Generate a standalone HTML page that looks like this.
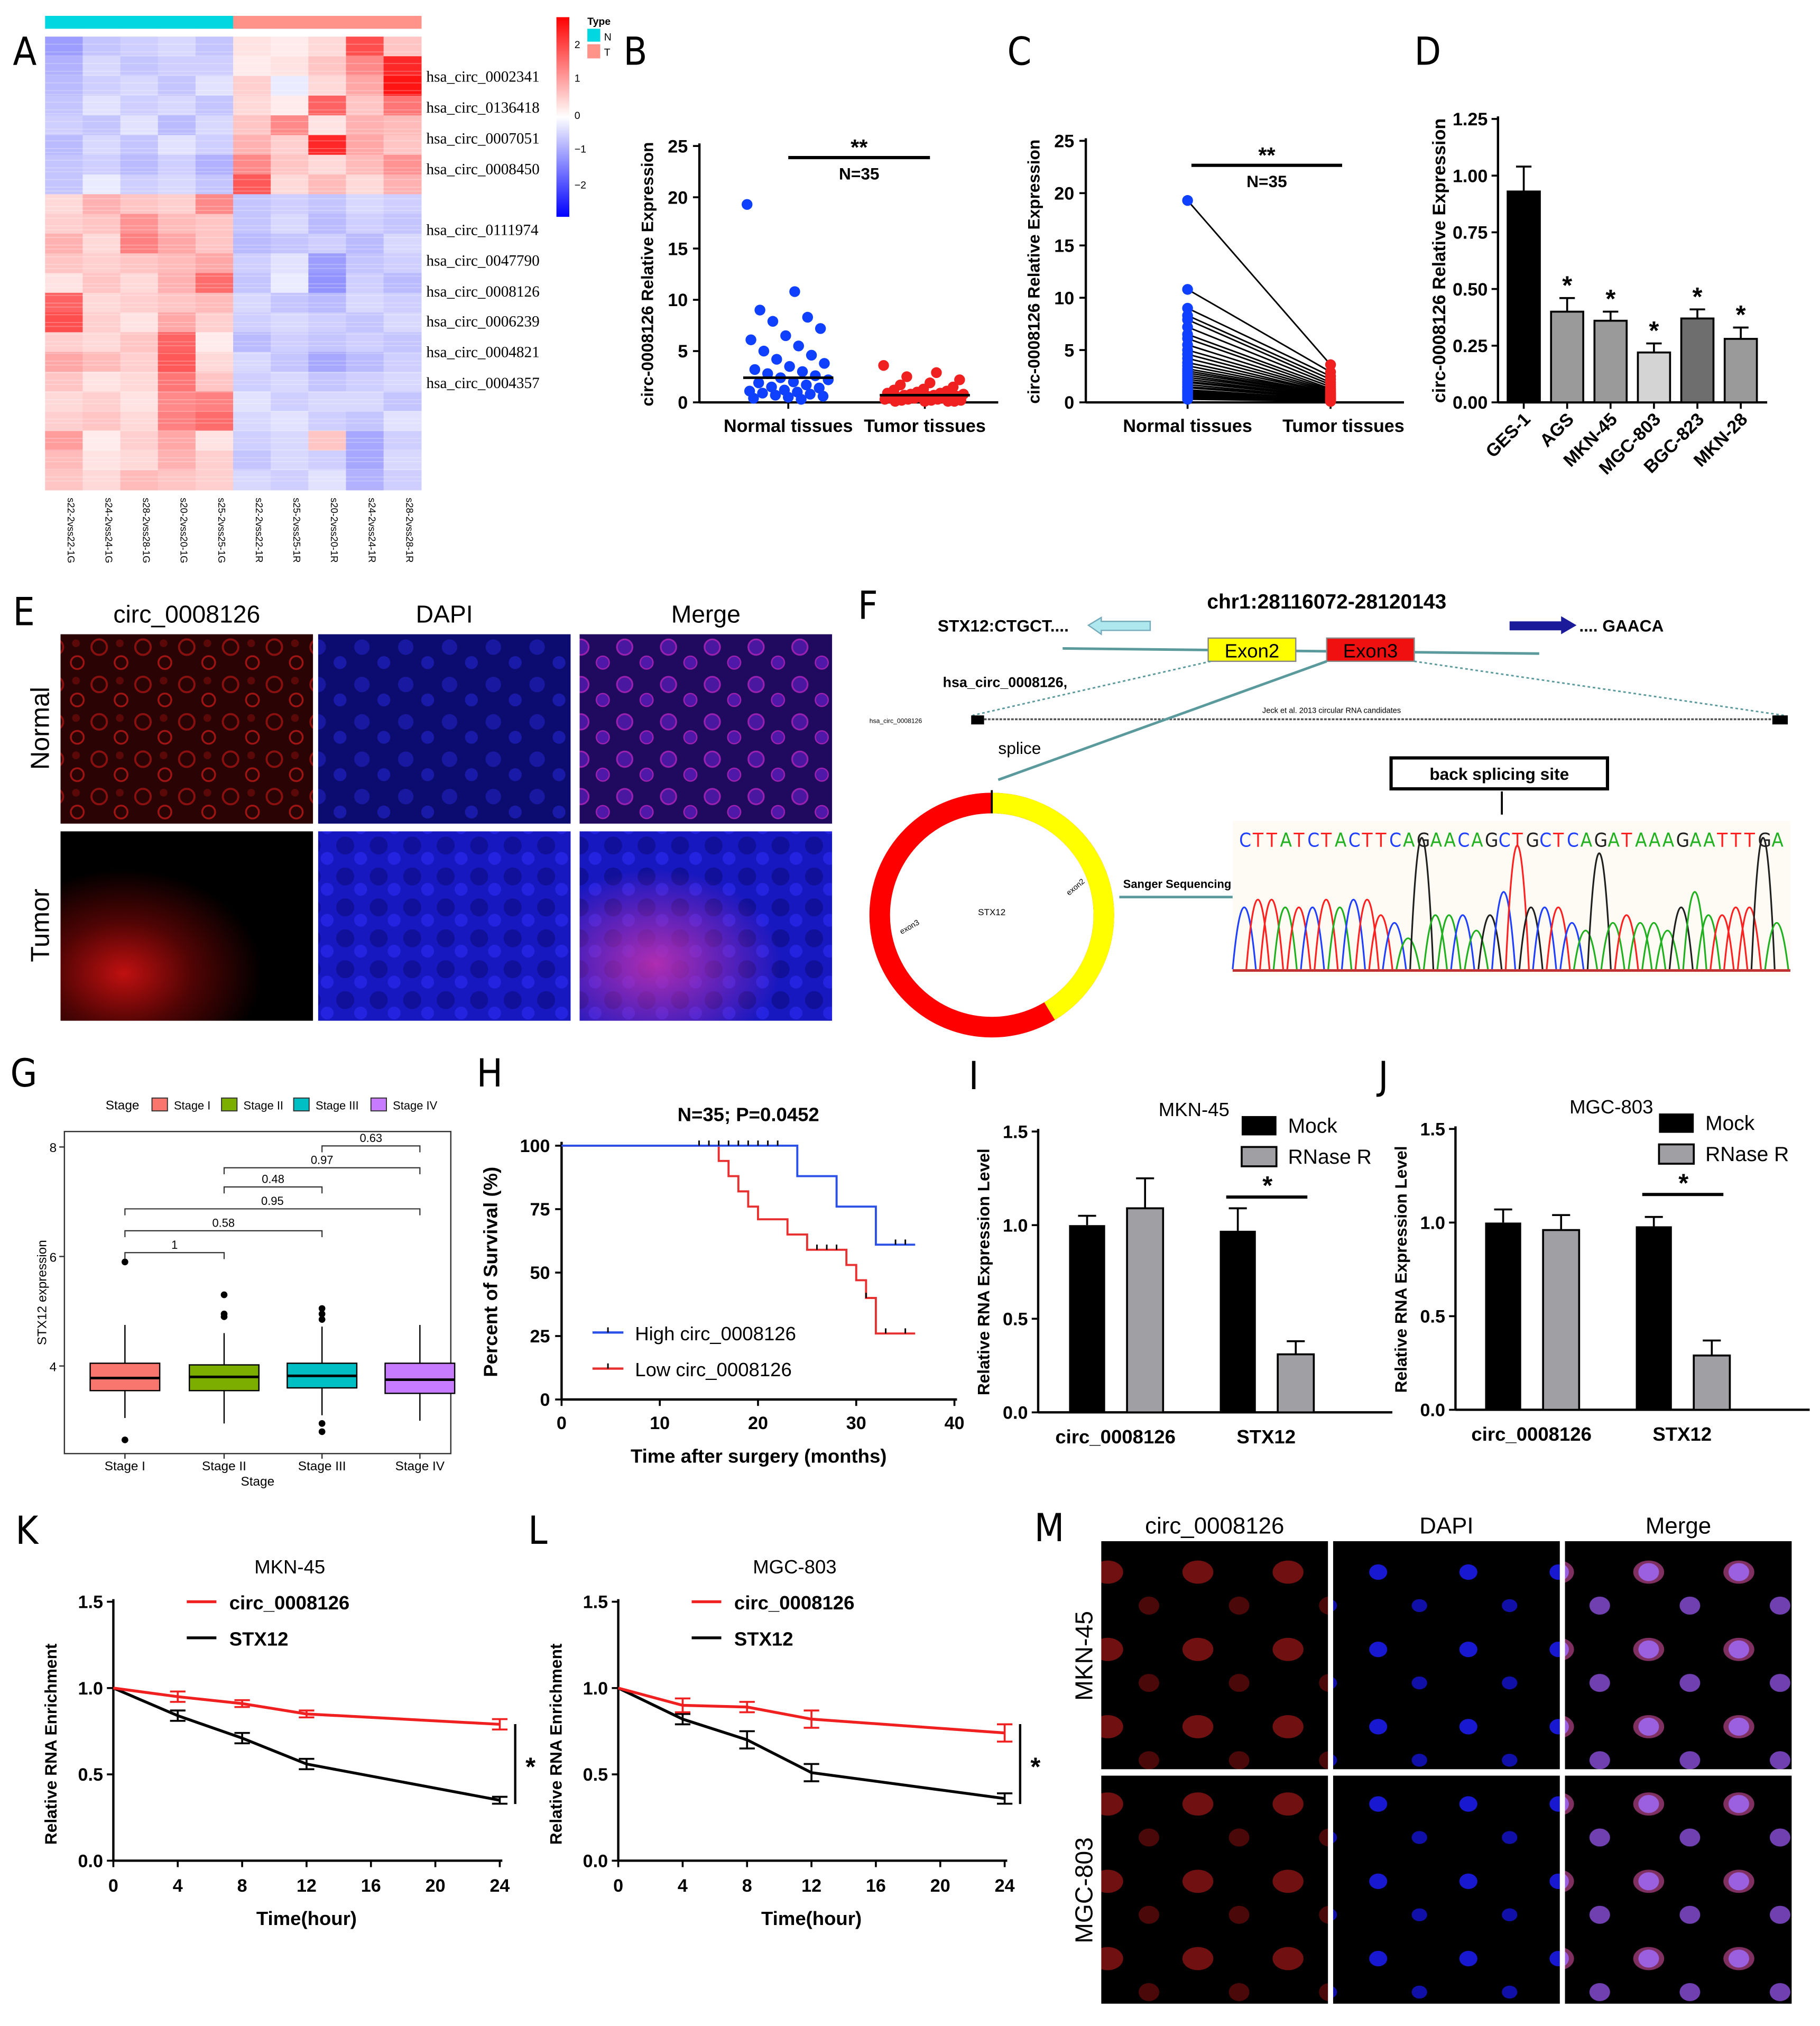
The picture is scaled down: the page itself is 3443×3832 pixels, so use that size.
<!DOCTYPE html>
<html><head><meta charset="utf-8">
<style>
html,body{margin:0;padding:0;background:#fff;}
svg{display:block;font-family:"Liberation Sans",sans-serif;}
.b{font-weight:bold;}
</style></head>
<body>
<svg id="fig" xmlns="http://www.w3.org/2000/svg" width="3443" height="3832" viewBox="0 0 1413 1572">
<defs>
  <linearGradient id="cbar" x1="0" y1="0" x2="0" y2="1">
    <stop offset="0" stop-color="#ff0000"/><stop offset="0.5" stop-color="#ffffff"/><stop offset="1" stop-color="#0000ff"/>
  </linearGradient>
  <pattern id="cellsRed" width="34" height="29" patternUnits="userSpaceOnUse">
    <rect width="34" height="29" fill="#2a0404"/><circle cx="9" cy="9" r="6" fill="none" stroke="#8a1010" stroke-width="1.6"/><circle cx="26" cy="21" r="5" fill="none" stroke="#a01414" stroke-width="1.4"/><circle cx="25" cy="6" r="3" fill="#5a0808"/>
  </pattern>
  <pattern id="cellsBlue" width="34" height="29" patternUnits="userSpaceOnUse">
    <rect width="34" height="29" fill="#0c0c70"/><circle cx="9" cy="9" r="6" fill="#1818a0"/><circle cx="26" cy="21" r="5" fill="#1a1aa8"/>
  </pattern>
  <pattern id="cellsMerge" width="34" height="29" patternUnits="userSpaceOnUse">
    <rect width="34" height="29" fill="#200a60"/><circle cx="9" cy="9" r="6" fill="#4a18a0" stroke="#9a20b0" stroke-width="1.3"/><circle cx="26" cy="21" r="5" fill="#5018a8" stroke="#a020b0" stroke-width="1"/>
  </pattern>
  <radialGradient id="tumRedG" cx="0.25" cy="0.75" r="0.55">
    <stop offset="0" stop-color="#c01010"/><stop offset="0.5" stop-color="#500404"/><stop offset="1" stop-color="#000"/>
  </radialGradient>
  <radialGradient id="tumMergeG" cx="0.3" cy="0.7" r="0.5">
    <stop offset="0" stop-color="#c030b0" stop-opacity="0.9"/><stop offset="1" stop-color="#c030b0" stop-opacity="0"/>
  </radialGradient>
  <pattern id="tumBlue" width="26" height="24" patternUnits="userSpaceOnUse">
    <rect width="26" height="24" fill="#1818c0"/><circle cx="8" cy="8" r="7" fill="#10109a"/><circle cx="20" cy="18" r="5" fill="#2424e0"/>
  </pattern>
  <pattern id="mRed" width="70" height="60" patternUnits="userSpaceOnUse">
    <rect width="70" height="60" fill="#000"/><ellipse cx="20" cy="20" rx="12" ry="9" fill="#701010"/><ellipse cx="52" cy="46" rx="8" ry="7" fill="#4a0808"/>
  </pattern>
  <pattern id="mBlue" width="70" height="60" patternUnits="userSpaceOnUse">
    <rect width="70" height="60" fill="#000"/><ellipse cx="20" cy="20" rx="7" ry="6" fill="#1818d0"/><ellipse cx="52" cy="46" rx="6" ry="5" fill="#1010a8"/>
  </pattern>
  <pattern id="mMerge" width="70" height="60" patternUnits="userSpaceOnUse">
    <rect width="70" height="60" fill="#000"/><ellipse cx="20" cy="20" rx="12" ry="9" fill="#803060"/><ellipse cx="20" cy="20" rx="8" ry="7" fill="#9a60e0"/><ellipse cx="52" cy="46" rx="8" ry="7" fill="#7040b0"/>
  </pattern>
</defs>
<g id="root"></g>
</svg>
<script>
// ---------- DATA ----------
const heatCols = ["s22-2vss22-1G","s24-2vss24-1G","s28-2vss28-1G","s20-2vss20-1G","s25-2vss25-1G","s22-2vss22-1R","s25-2vss25-1R","s20-2vss20-1R","s24-2vss24-1R","s28-2vss28-1R"];
const heatRows = [
 [-1,-.6,-.5,-.4,-.6,.3,.2,.4,1.8,.6],
 [-.8,-.4,-.6,-.5,-.5,.2,.3,.6,1.2,2.2],
 [-.7,-.5,-.4,-.6,-.3,.5,-.2,.4,.9,2.4],
 [-.6,-.3,-.5,-.4,-.6,.4,.2,1.6,.6,1.4],
 [-.5,-.6,-.3,-.7,-.4,.6,1.2,.3,.8,.7],
 [-.7,-.4,-.6,-.3,-.5,.8,.5,2.2,.9,.6],
 [-.6,-.5,-.7,-.5,-.8,1.2,.6,.4,.7,1.1],
 [-.6,-.2,-.5,-.4,-.6,1.7,.4,.7,.4,.8],
 [.4,.8,.6,.5,1.2,-.6,-.5,-.6,-.4,-.5],
 [.5,.6,1.1,.7,.6,-.6,-.4,-.7,-.5,-.6],
 [.8,.4,1.3,.9,.6,-.7,-.6,-.5,-.7,-.4],
 [.6,.5,.6,.7,.9,-.5,-.3,-1,-.6,-.5],
 [.3,.6,.4,.8,1.5,-.6,-.2,-1.1,-.5,-.7],
 [1.6,.4,.5,.6,.7,-.4,-.6,-.7,-.4,-.5],
 [1.8,.5,.3,.9,.5,-.5,-.4,-.5,-.6,-.4],
 [.5,.4,.6,1.6,.2,-.7,-.5,-.6,-.5,-.6],
 [.9,.7,.5,1.7,.4,-.4,-.6,-.9,-.7,-.5],
 [.6,.3,.4,1.4,.6,-.5,-.4,-.6,-.5,-.4],
 [.4,.5,.3,1.2,1.3,-.3,-.5,-.4,-.4,-.6],
 [.5,.6,.4,1.3,1.5,-.4,-.3,-.5,-.6,-.3],
 [1,.2,.5,.9,.3,-.5,-.4,.6,-.9,-.5],
 [.7,.3,.4,.8,.5,-.6,-.4,-.5,-.9,-.4],
 [.6,.4,.7,.6,.5,-.4,-.5,-.3,-.8,-.5]
];
const heatLabels = ["hsa_circ_0002341","hsa_circ_0136418","hsa_circ_0007051","hsa_circ_0008450","hsa_circ_0111974","hsa_circ_0047790","hsa_circ_0008126","hsa_circ_0006239","hsa_circ_0004821","hsa_circ_0004357"];
const normalVals = [19.3,10.8,9,8.3,7.9,7.2,6.5,6.1,5.5,5,4.6,4.2,3.8,3.5,3.2,3,2.8,2.6,2.4,2.2,2,1.9,1.7,1.5,1.4,1.2,1.1,1,.9,.8,.7,.6,.5,.4,.3];
const tumorVals = [3.6,2.9,2.5,2.2,1.9,1.7,1.5,1.3,1.2,1.1,1,.9,.9,.8,.8,.7,.7,.6,.6,.5,.5,.5,.4,.4,.4,.3,.3,.3,.2,.2,.2,.1,.1,.1,.1];
const scatterTicks = [0,5,10,15,20,25];
const cellLines = ["GES-1","AGS","MKN-45","MGC-803","BGC-823","MKN-28"];
const cellVals = [0.93,0.40,0.36,0.22,0.37,0.28];
const cellErr = [0.11,0.06,0.04,0.04,0.04,0.05];
const cellTicks = [0,0.25,0.5,0.75,1.0,1.25];
const stages = ["Stage I","Stage II","Stage III","Stage IV"];
const stageQ1 = [3.55,3.55,3.6,3.5];
const stageMed = [3.78,3.8,3.82,3.75];
const stageQ3 = [4.05,4.02,4.05,4.05];
const stageLo = [3.05,2.95,3.1,3.0];
const stageHi = [4.75,4.6,4.72,4.75];
const stageOut = [[5.9,2.65],[5.3,4.95,4.9],[5.05,4.95,4.85,2.95,2.8],[]];
const boxTicks = [4,6,8];
const pvals = [["1",0,1,6.07],["0.58",0,2,6.47],["0.95",0,3,6.87],["0.48",1,2,7.27],["0.97",1,3,7.62],["0.63",2,3,8.02]];
const highT = [0,24,24,28,28,32,32,36];
const highS = [100,100,88,88,76,76,61,61];
const lowT = [0,16,16,17,17,18,18,19,19,20,20,23,23,25,25,29,29,30,30,31,31,32,32,36];
const lowS = [100,100,94,94,88,88,82,82,76,76,71,71,65,65,59,59,53,53,47,47,40,40,26,26];
const highCens = [[14,100],[15,100],[16,100],[17,100],[18,100],[19,100],[20,100],[21,100],[22,100],[34,61],[35,61]];
const lowCens = [[26,59],[27,59],[28,59],[31,40],[33,26],[35,26]];
const kmXTicks = [0,10,20,30,40];
const kmYTicks = [0,25,50,75,100];
const rnaseGroups = ["circ_0008126","STX12"];
const mknMock = [1.0,0.97]; const mknMockErr=[0.05,0.12];
const mknRnase = [1.09,0.31]; const mknRnaseErr=[0.16,0.07];
const mgcMock = [1.0,0.98]; const mgcMockErr=[0.07,0.05];
const mgcRnase = [0.96,0.29]; const mgcRnaseErr=[0.08,0.08];
const rnaTicks = [0,0.5,1.0,1.5];
const timeH = [0,4,8,12,24];
const timeTicks = [0,4,8,12,16,20,24];
const kCirc = [1,0.95,0.91,0.85,0.79]; const kCircErr=[0,0.03,0.02,0.02,0.03];
const kStx = [1,0.84,0.71,0.56,0.35]; const kStxErr=[0,0.03,0.03,0.03,0.02];
const lCirc = [1,0.9,0.89,0.82,0.74]; const lCircErr=[0,0.04,0.03,0.05,0.05];
const lStx = [1,0.82,0.70,0.51,0.36]; const lStxErr=[0,0.03,0.05,0.05,0.03];

// ---------- HELPERS ----------
const NS="http://www.w3.org/2000/svg";
const root=document.getElementById('root');
function mk(tag,attrs,parent,txt){const e=document.createElementNS(NS,tag);for(const k in attrs)e.setAttribute(k,attrs[k]);if(txt!==undefined)e.textContent=txt;(parent||root).appendChild(e);return e;}
function grp(name){const g=mk('g',{});return g;}
function T(p,x,y,s,o,name){const t=mk('text',Object.assign({x:x,y:y},o||{}),p,s);return t;}
function L(p,x1,y1,x2,y2,st,w,name){const l=mk('line',{x1,y1,x2,y2,stroke:st||'#000','stroke-width':w||1.5},p);return l;}
function R(p,x,y,w,h,f,name,extra){const r=mk('rect',Object.assign({x,y,width:w,height:h,fill:f},extra||{}),p);return r;}
function panelLetter(ch,x,y){const t=T(root,x,y,ch,{'font-size':30,'font-family':'"DejaVu Sans Condensed","Liberation Sans",sans-serif'},'panel-letter-'+ch);return t;}
function heatColor(v){const m=2.6;let t=Math.max(-1,Math.min(1,v/m));if(t>=0){const c=Math.round(255*(1-t));return `rgb(255,${c},${c})`;}const c=Math.round(255*(1+t));return `rgb(${c},${c},255)`;}

// ---------- PANEL A ----------
(function(){
 const g=grp('heatmap-panel');
 panelLetter('A',10,50);
 const x0=35,x1=327,y0=28,y1=380;const cw=(x1-x0)/heatCols.length;const rh=(y1-y0)/heatRows.length;
 for(let c=0;c<heatCols.length;c++){R(g,x0+c*cw,12,cw+0.3,10,c<5?'#00D7E0':'#FF938A','type-annotation-cell');}
 heatRows.forEach((row,i)=>row.forEach((v,c)=>{
   R(g,x0+c*cw,y0+i*rh,cw+0.3,rh+0.3,heatColor(v),'heatmap-cell');
 }));
 for(let k=0;k<70;k++){const yy=y0+k*5+(k%3);L(g,x0,yy,x1,yy,'rgba(255,255,255,0.25)',0.8,'heatmap-stripe');}
 heatCols.forEach((c,i)=>{const cx=x0+(i+0.5)*cw+3;T(g,cx,386,c,{'font-size':7.5,transform:`rotate(90 ${cx} 386)`},'column-label');});
 const ly=[59,83,107,131,178,202,226,249,273,297];
 heatLabels.forEach((s,i)=>T(g,331,ly[i]+4,s,{'font-size':12,'font-family':'"Liberation Serif",serif'},'row-label'));
 R(g,432,13,10,155,'url(#cbar)','color-scale-bar');
 [[2,37],[1,63],[0,92],[-1,118],[-2,146]].forEach(a=>T(g,446,a[1],a[0]===-1?'\u22121':a[0]===-2?'\u22122':String(a[0]),{'font-size':8},'color-scale-tick'));
 T(g,456,19,'Type',{'font-size':8,class:'b'},'legend-title');
 R(g,456,22,10,10,'#00D7E0','legend-swatch-n');T(g,469,31,'N',{'font-size':8},'legend-label-n');
 R(g,456,34,10,11,'#FF938A','legend-swatch-t');T(g,469,43,'T',{'font-size':8},'legend-label-t');
})();

// ---------- PANEL B & C ----------
function scatterPanel(name,ax,y0,ytop,paired,letter,lx){
 const g=grp(name);panelLetter(letter,lx,50);
 const ys=v=>y0-(v/25)*(y0-ytop);
 L(g,ax,ytop-2,ax,y0,'#000',1.8,'y-axis');
 scatterTicks.forEach(t=>{L(g,ax-5,ys(t),ax,ys(t),'#000',1.5,'y-tick');T(g,ax-9,ys(t)+5,String(t),{'font-size':14,'text-anchor':'end',class:'b'},'y-tick-label');});
 const nx=paired?922:612, tx=paired?1033:718;
 L(g,ax,y0,paired?1090:775,y0,'#000',1.8,'x-axis');
 L(g,nx,y0,nx,y0+5,'#000',1.5,'x-tick');L(g,tx,y0,tx,y0+5,'#000',1.5,'x-tick');
 T(g,nx,y0+23,'Normal tissues',{'font-size':14,'text-anchor':'middle',class:'b'},'x-tick-label');
 T(g,tx+(paired?10:0),y0+23,'Tumor tissues',{'font-size':14,'text-anchor':'middle',class:'b'},'x-tick-label');
 const yt=(y0+ytop)/2, xt=ax-36;
 T(g,xt,yt,'circ-0008126 Relative Expression',{'font-size':13,'text-anchor':'middle',class:'b',transform:`rotate(-90 ${xt} ${yt})`},'y-axis-title');
 if(paired){
  normalVals.forEach((v,i)=>{L(g,nx,ys(v),tx,ys(tumorVals[i]),'#000',1.2,'pair-line');});
 }
 normalVals.forEach((v,i)=>{const jx=paired?0:((i*37)%64-32);const c=mk('circle',{cx:nx+jx,cy:ys(v),r:4.2,fill:'#1040ff'},g);});
 tumorVals.forEach((v,i)=>{const jx=paired?0:((i*41)%64-32);const c=mk('circle',{cx:tx+jx,cy:ys(v),r:4.2,fill:'#f02020'},g);});
 if(!paired){L(g,nx-35,ys(2.4),nx+35,ys(2.4),'#000',2,'median-line');L(g,tx-35,ys(0.7),tx+35,ys(0.7),'#000',2,'median-line');}
 const sb=paired?[925,1042,128]:[612,722,122];
 L(g,sb[0],sb[2],sb[1],sb[2],'#000',2.5,'significance-bar');
 T(g,(sb[0]+sb[1])/2,sb[2]-2,'**',{'font-size':17,'text-anchor':'middle',class:'b'},'significance-stars');
 T(g,(sb[0]+sb[1])/2,sb[2]+17,'N=35',{'font-size':13,'text-anchor':'middle',class:'b'},'sample-size');
}
scatterPanel('scatter-panel-b',543,312,113,false,'B',484);
scatterPanel('paired-panel-c',843,312,109,true,'C',782);

// ---------- PANEL D ----------
(function(){
 const g=grp('cell-line-bar-panel');panelLetter('D',1098,50);
 const ax=1163,y0=312,yt=92;const ys=v=>y0-v/1.25*(y0-yt);
 L(g,ax,yt-2,ax,y0,'#000',1.8,'y-axis');L(g,ax,y0,1372,y0,'#000',1.8,'x-axis');
 cellTicks.forEach(t=>{L(g,ax-5,ys(t),ax,ys(t),'#000',1.5,'y-tick');T(g,ax-8,ys(t)+5,t.toFixed(2),{'font-size':14,'text-anchor':'end',class:'b'},'y-tick-label');});
 const xt=1122,ym=(y0+yt)/2;T(g,xt,ym,'circ-0008126 Relative Expression',{'font-size':14,'text-anchor':'middle',class:'b',transform:`rotate(-90 ${xt} ${ym})`},'y-axis-title');
 const fills=['#000','#9a9a9a','#9a9a9a','#d4d4d4','#6e6e6e','#9a9a9a'];
 cellLines.forEach((n,i)=>{const cx=1183+i*33.7;const bw=25;
  R(g,cx-bw/2,ys(cellVals[i]),bw,y0-ys(cellVals[i]),fills[i],'bar-'+n.toLowerCase(),{stroke:'#000','stroke-width':1.5});
  L(g,cx,ys(cellVals[i]),cx,ys(cellVals[i]+cellErr[i]),'#000',1.5,'error-bar');L(g,cx-6,ys(cellVals[i]+cellErr[i]),cx+6,ys(cellVals[i]+cellErr[i]),'#000',1.5,'error-cap');
  if(i>0)T(g,cx,ys(cellVals[i]+cellErr[i])-3,'*',{'font-size':20,'text-anchor':'middle',class:'b'},'significance-star');
  L(g,cx,y0,cx,y0+5,'#000',1.5,'x-tick');
  T(g,cx+6,y0+14,n,{'font-size':14,'text-anchor':'end',class:'b',transform:`rotate(-45 ${cx+6} ${y0+14})`},'x-tick-label');
 });
})();

// ---------- PANEL E ----------
(function(){
 const g=grp('fish-panel-e');panelLetter('E',10,485);
 const cols=[[47,'circ_0008126'],[247,'DAPI'],[450,'Merge']];
 cols.forEach((c,i)=>T(g,c[0]+98,483,c[1],{'font-size':19,'text-anchor':'middle'},'column-title'));
 R(g,47,492,196,147,'url(#cellsRed)','fluorescence-image');
 R(g,247,492,196,147,'url(#cellsBlue)','fluorescence-image');
 R(g,450,492,196,147,'url(#cellsMerge)','fluorescence-image');
 R(g,47,645,196,147,'url(#tumRedG)','fluorescence-image');
 R(g,247,645,196,147,'url(#tumBlue)','fluorescence-image');
 R(g,450,645,196,147,'url(#tumBlue)','fluorescence-image');
 R(g,450,645,196,147,'url(#tumMergeG)','fluorescence-overlay');
 T(g,38,565,'Normal',{'font-size':20,'text-anchor':'middle',transform:'rotate(-90 38 565)'},'row-title');
 T(g,38,718,'Tumor',{'font-size':20,'text-anchor':'middle',transform:'rotate(-90 38 718)'},'row-title');
})();

// ---------- PANEL F ----------
(function(){
 const g=grp('schematic-panel-f');panelLetter('F',666,480);
 T(g,1030,472,'chr1:28116072-28120143',{'font-size':16,'text-anchor':'middle',class:'b'},'locus-label');
 T(g,728,490,'STX12:CTGCT....',{'font-size':13,class:'b'},'left-sequence');
 mk('path',{d:'M845 485 L855 479 L855 482 L893 482 L893 489 L855 489 L855 492 Z',fill:'#aee8ee',stroke:'#7ab'},g);
 mk('path',{d:'M1172 482 L1212 482 L1212 478 L1224 485 L1212 492 L1212 489 L1172 489 Z',fill:'#1a1a9a'},g);
 T(g,1226,490,'.... GAACA',{'font-size':13,class:'b'},'right-sequence');
 L(g,825,503,1195,507,'#5a9a9c',2,'gene-line');
 R(g,938,495,68,18,'#ffff00','exon2-box',{stroke:'#888'});T(g,972,510,'Exon2',{'font-size':15,'text-anchor':'middle'},'exon2-label');
 R(g,1030,495,68,18,'#f01010','exon3-box',{stroke:'#888'});T(g,1064,510,'Exon3',{'font-size':15,'text-anchor':'middle'},'exon3-label');
 T(g,732,533,'hsa_circ_0008126,',{'font-size':11,class:'b'},'circ-name');
 L(g,940,513,755,555,'#5a9a9c',1.2,'dotted-guide').setAttribute('stroke-dasharray','2 2');
 L(g,1098,513,1385,555,'#5a9a9c',1.2,'dotted-guide').setAttribute('stroke-dasharray','2 2');
 T(g,675,561,'hsa_circ_0008126',{'font-size':5},'track-label');
 R(g,754,555,10,7,'#000','track-end');R(g,1376,555,12,7,'#000','track-end');
 L(g,764,558,1376,558,'#555',1.5,'track-line').setAttribute('stroke-dasharray','2 1');
 T(g,980,553,'Jeck et al. 2013 circular RNA candidates',{'font-size':6},'track-title');
 L(g,1030,513,775,605,'#5a9a9c',2,'splice-arrow');
 T(g,775,585,'splice',{'font-size':13},'splice-label');
 const cx=770,cy=710,r=87;
 mk('circle',{cx,cy,r,fill:'none',stroke:'#ff0000','stroke-width':16},g);
 mk('path',{d:`M${cx} ${cy-r} A ${r} ${r} 0 0 1 ${cx+r*Math.sin(2.6)} ${cy-r*Math.cos(2.6)}`,fill:'none',stroke:'#ffff00','stroke-width':16},g);
 L(g,cx,cy-r-10,cx,cy-r+8,'#000',1.5,'junction-mark');
 T(g,cx,cy,'STX12',{'font-size':7,'text-anchor':'middle'},'circ-center-label');
 T(g,830,695,'exon2',{'font-size':6,transform:'rotate(-40 830 695)'},'exon2-circ-label');
 T(g,700,725,'exon3',{'font-size':6,transform:'rotate(-30 700 725)'},'exon3-circ-label');
 T(g,872,689,'Sanger Sequencing',{'font-size':9,class:'b'},'sanger-label');
 L(g,869,696,957,696,'#5a9a9c',2,'sanger-arrow');
 R(g,1080,588,168,24,'#fff','back-splicing-box',{stroke:'#000','stroke-width':2.5});
 T(g,1164,605,'back splicing site',{'font-size':13,'text-anchor':'middle',class:'b'},'back-splicing-label');
 L(g,1166,614,1166,632,'#000',1.5,'site-arrow');
 R(g,957,637,433,120,'#fdfbf3','chromatogram-bg');
 const seq='CTTATCTACTTCAGAACAGCTGCTCAGATAAAGAATTTGA';
 const col={A:'#20b020',C:'#2040ff',G:'#202020',T:'#ff2020'};
 const peakH=[.4,.45,.45,.4,.4,.4,.45,.4,.45,.45,.35,.3,.2,.85,.35,.35,.35,.25,.35,.5,.8,.4,.4,.4,.3,.25,.75,.3,.35,.3,.3,.25,.4,.5,.35,.35,.4,.4,.85,.3];
 seq.split('').forEach((ch,i)=>{const x=962+i*10.6;
  T(g,x,657,ch,{'font-size':15,fill:col[ch],'font-family':'"DejaVu Sans Condensed","Liberation Sans",sans-serif'},'base-call');
  const h=peakH[i]*120;const p=mk('path',{d:`M${x-5} 752 Q${x+4} ${752-2*h} ${x+13} 752`,fill:'none',stroke:col[ch],'stroke-width':1.3},g);});
 L(g,957,753,1390,753,'#c03030',2,'trace-baseline');
})();

// ---------- PANEL G ----------
(function(){
 const g=grp('boxplot-panel-g');panelLetter('G',8,843);
 const ys=v=>1060-(v-4)*42.5;const xs=[97,174,250,326];const cols=['#F8766D','#7CAE00','#00BFC4','#C77CFF'];
 R(g,50,878,300,250,'#fff','plot-area',{stroke:'#333','stroke-width':1});
 T(g,82,861,'Stage',{'font-size':10},'legend-title');
 [[118,'Stage I'],[172,'Stage II'],[228,'Stage III'],[288,'Stage IV']].forEach((a,i)=>{R(g,a[0],852,12,10,cols[i],'legend-swatch',{stroke:'#333','stroke-width':.8});T(g,a[0]+17,861,a[1],{'font-size':9},'legend-label');});
 boxTicks.forEach(t=>{L(g,46,ys(t),50,ys(t),'#333',1,'y-tick');T(g,44,ys(t)+4,String(t),{'font-size':10,'text-anchor':'end'},'y-tick-label');});
 T(g,36,1003,'STX12  expression',{'font-size':10,'text-anchor':'middle',transform:'rotate(-90 36 1003)'},'y-axis-title');
 stages.forEach((s,i)=>{const x=xs[i];
  L(g,x,ys(stageHi[i]),x,ys(stageQ3[i]),'#000',1,'whisker');L(g,x,ys(stageQ1[i]),x,ys(stageLo[i]),'#000',1,'whisker');
  R(g,x-27,ys(stageQ3[i]),54,ys(stageQ1[i])-ys(stageQ3[i]),cols[i],'box-'+s.toLowerCase().replace(' ','-'),{stroke:'#000','stroke-width':1});
  L(g,x-27,ys(stageMed[i]),x+27,ys(stageMed[i]),'#000',2,'median-line');
  stageOut[i].forEach(v=>{const c=mk('circle',{cx:x,cy:ys(v),r:2.6,fill:'#000'},g);});
  L(g,x,1128,x,1132,'#333',1,'x-tick');T(g,x,1141,s,{'font-size':10,'text-anchor':'middle'},'x-tick-label');
 });
 T(g,200,1153,'Stage',{'font-size':10,'text-anchor':'middle'},'x-axis-title');
 pvals.forEach(p=>{const y=ys(p[3]);const a=xs[p[1]],b=xs[p[2]];
  const pl=mk('polyline',{points:`${a},${y+5} ${a},${y} ${b},${y} ${b},${y+5}`,fill:'none',stroke:'#333','stroke-width':.9},g);
  T(g,(a+b)/2,y-3,p[0],{'font-size':9,'text-anchor':'middle'},'p-value');});
})();

// ---------- PANEL H ----------
(function(){
 const g=grp('survival-panel-h');panelLetter('H',370,843);
 const xs=t=>436+t*7.625, ys=s=>1086-s*1.97;
 L(g,436,886,436,1086,'#000',1.8,'y-axis');L(g,436,1086,743,1086,'#000',1.8,'x-axis');
 kmXTicks.forEach(t=>{L(g,xs(t),1086,xs(t),1091,'#000',1.5,'x-tick');T(g,xs(t),1109,String(t),{'font-size':14,'text-anchor':'middle',class:'b'},'x-tick-label');});
 kmYTicks.forEach(t=>{L(g,431,ys(t),436,ys(t),'#000',1.5,'y-tick');T(g,427,ys(t)+5,String(t),{'font-size':14,'text-anchor':'end',class:'b'},'y-tick-label');});
 T(g,589,1135,'Time after surgery (months)',{'font-size':15,'text-anchor':'middle',class:'b'},'x-axis-title');
 T(g,386,987,'Percent of Survival  (%)',{'font-size':15,'text-anchor':'middle',class:'b',transform:'rotate(-90 386 987)'},'y-axis-title');
 T(g,581,870,'N=35; P=0.0452',{'font-size':15,'text-anchor':'middle',class:'b'},'km-title');
 const draw=(t,s,c,n)=>{const pl=mk('polyline',{points:t.map((v,i)=>xs(v)+','+ys(s[i])).join(' '),fill:'none',stroke:c,'stroke-width':1.6},g);};
 draw(lowT,lowS,'#e83030','low-expression-curve');draw(highT,highS,'#2a50e8','high-expression-curve');
 highCens.forEach(c=>L(g,xs(c[0]),ys(c[1])-4,xs(c[0]),ys(c[1]),'#000',1.2,'censor-mark'));
 lowCens.forEach(c=>L(g,xs(c[0]),ys(c[1])-4,xs(c[0]),ys(c[1]),'#000',1.2,'censor-mark'));
 L(g,460,1034,484,1034,'#2a50e8',1.8,'legend-line-high');L(g,472,1030,472,1034,'#000',1.2,'legend-tick');
 T(g,493,1040,'High circ_0008126',{'font-size':15},'legend-label-high');
 L(g,460,1062,484,1062,'#e83030',1.8,'legend-line-low');L(g,472,1058,472,1062,'#000',1.2,'legend-tick');
 T(g,493,1068,'Low circ_0008126',{'font-size':15},'legend-label-low');
})();

// ---------- PANELS I & J ----------
function rnasePanel(name,ax,y0,yt,letter,lx,title,mock,mockE,rn,rnE,bx){
 const g=grp(name);panelLetter(letter,lx,845);
 const ys=v=>y0-v/1.5*(y0-yt);
 L(g,ax,yt-2,ax,y0,'#000',1.8,'y-axis');L(g,ax,y0,ax+275,y0,'#000',1.8,'x-axis');
 rnaTicks.forEach(t=>{L(g,ax-5,ys(t),ax,ys(t),'#000',1.5,'y-tick');T(g,ax-8,ys(t)+5,t.toFixed(1),{'font-size':14,'text-anchor':'end',class:'b'},'y-tick-label');});
 const ym=(y0+yt)/2, xt=ax-38;T(g,xt,ym,'Relative RNA Expression Level',{'font-size':13,'text-anchor':'middle',class:'b',transform:`rotate(-90 ${xt} ${ym})`},'y-axis-title');
 T(g,ax+121,yt-12,title,{'font-size':15,'text-anchor':'middle'},'panel-title');
 rnaseGroups.forEach((gr,i)=>{const base=bx[i];
  R(g,base,ys(mock[i]),28,y0-ys(mock[i]),'#000','bar-mock');
  R(g,base+45,ys(rn[i]),28,y0-ys(rn[i]),'#a0a0a4','bar-rnase',{stroke:'#000','stroke-width':1.5});
  [[base+14,mock[i],mockE[i]],[base+59,rn[i],rnE[i]]].forEach(e=>{L(g,e[0],ys(e[1]),e[0],ys(e[1]+e[2]),'#000',1.5,'error-bar');L(g,e[0]-7,ys(e[1]+e[2]),e[0]+7,ys(e[1]+e[2]),'#000',1.5,'error-cap');});
  T(g,base+36,y0+24,gr,{'font-size':15,'text-anchor':'middle',class:'b'},'x-tick-label');
 });
 const lx2=ax+158;R(g,lx2,yt-12,27,15,'#000','legend-swatch-mock');T(g,lx2+36,yt+1,'Mock',{'font-size':16},'legend-label-mock');
 R(g,lx2,yt+12,27,15,'#a0a0a4','legend-swatch-rnase',{stroke:'#000','stroke-width':1.5});T(g,lx2+36,yt+25,'RNase R',{'font-size':16},'legend-label-rnase');
 const sx=bx[1]+5,sy=ys(1.15);L(g,sx,sy,sx+63,sy,'#000',2.5,'significance-bar');T(g,sx+32,sy-2,'*',{'font-size':20,'text-anchor':'middle',class:'b'},'significance-star');
}
rnasePanel('rnase-panel-i',806,1096,878,'I',752,'MKN-45',mknMock,mknMockErr,mknRnase,mknRnaseErr,[830,947]);
rnasePanel('rnase-panel-j',1130,1094,876,'J',1070,'MGC-803',mgcMock,mgcMockErr,mgcRnase,mgcRnaseErr,[1153,1270]);

// ---------- PANELS K & L ----------
function decayPanel(name,ax,letter,lx,title,circ,circE,stx,stxE){
 const g=grp(name);panelLetter(letter,lx,1198);
 const y0=1444,yt=1243;const xs=h=>ax+h*12.5, ys=v=>y0-v/1.5*(y0-yt);
 L(g,ax,yt-2,ax,y0,'#000',1.8,'y-axis');L(g,ax,y0,ax+302,y0,'#000',1.8,'x-axis');
 rnaTicks.forEach(t=>{L(g,ax-5,ys(t),ax,ys(t),'#000',1.5,'y-tick');T(g,ax-8,ys(t)+5,t.toFixed(1),{'font-size':14,'text-anchor':'end',class:'b'},'y-tick-label');});
 timeTicks.forEach(t=>{L(g,xs(t),y0,xs(t),y0+5,'#000',1.5,'x-tick');T(g,xs(t),y0+24,String(t),{'font-size':14,'text-anchor':'middle',class:'b'},'x-tick-label');});
 T(g,ax+150,y0+50,'Time(hour)',{'font-size':15,'text-anchor':'middle',class:'b'},'x-axis-title');
 const xt=ax-44,ym=(y0+yt)/2+10;T(g,xt,ym,'Relative RNA Enrichment',{'font-size':13,'text-anchor':'middle',class:'b',transform:`rotate(-90 ${xt} ${ym})`},'y-axis-title');
 T(g,ax+137,1221,title,{'font-size':15,'text-anchor':'middle'},'panel-title');
 const draw=(v,e,c,n)=>{const pl=mk('polyline',{points:timeH.map((h,i)=>xs(h)+','+ys(v[i])).join(' '),fill:'none',stroke:c,'stroke-width':2.2},g);
  timeH.forEach((h,i)=>{if(e[i]>0){L(g,xs(h),ys(v[i]-e[i]),xs(h),ys(v[i]+e[i]),c,1.5,'error-bar');L(g,xs(h)-6,ys(v[i]-e[i]),xs(h)+6,ys(v[i]-e[i]),c,1.5,'error-cap');L(g,xs(h)-6,ys(v[i]+e[i]),xs(h)+6,ys(v[i]+e[i]),c,1.5,'error-cap');}});};
 draw(stx,stxE,'#000','stx12-line');draw(circ,circE,'#f02020','circ-line');
 L(g,ax+57,1243,ax+80,1243,'#f02020',2.2,'legend-line-circ');T(g,ax+90,1249,'circ_0008126',{'font-size':15,class:'b'},'legend-label-circ');
 L(g,ax+57,1271,ax+80,1271,'#000',2.2,'legend-line-stx');T(g,ax+90,1277,'STX12',{'font-size':15,class:'b'},'legend-label-stx');
 L(g,ax+312,1338,ax+312,1400,'#000',1.8,'significance-bracket');T(g,ax+320,1378,'*',{'font-size':20,class:'b'},'significance-star');
}
decayPanel('decay-panel-k',88,'K',12,'MKN-45',kCirc,kCircErr,kStx,kStxErr);
decayPanel('decay-panel-l',480,'L',410,'MGC-803',lCirc,lCircErr,lStx,lStxErr);

// ---------- PANEL M ----------
(function(){
 const g=grp('fish-panel-m');panelLetter('M',803,1196);
 const cols=[[855,'circ_0008126'],[1035,'DAPI'],[1215,'Merge']];
 cols.forEach(c=>T(g,c[0]+88,1190,c[1],{'font-size':18,'text-anchor':'middle'},'column-title'));
 const fills=['url(#mRed)','url(#mBlue)','url(#mMerge)'];
 [1196,1378].forEach(y=>cols.forEach((c,i)=>R(g,c[0],y,176,177,fills[i],'fluorescence-image')));
 T(g,848,1285,'MKN-45',{'font-size':19,'text-anchor':'middle',transform:'rotate(-90 848 1285)'},'row-title');
 T(g,848,1467,'MGC-803',{'font-size':19,'text-anchor':'middle',transform:'rotate(-90 848 1467)'},'row-title');
})();
</script>
</body></html>
